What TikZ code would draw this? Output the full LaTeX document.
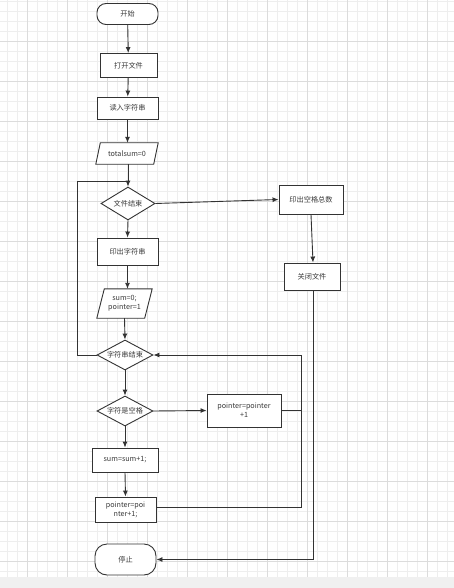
\documentclass[tikz,border=0pt]{standalone}
\usepackage{fontspec}
\setmainfont{Noto Sans CJK SC}
\usetikzlibrary{shapes.geometric,arrows.meta,calc}
\definecolor{ln}{HTML}{333333}
\definecolor{txt}{HTML}{3A3A3A}
\definecolor{gminor}{HTML}{EEEEEE}
\definecolor{gmajor}{HTML}{DCDCDC}
\definecolor{band}{HTML}{F0F0F0}
\tikzset{
  base/.style={font=\fontsize{7.2}{9}\selectfont, text=txt, inner sep=0pt, align=center},
  procbox/.style={base, draw=ln, line width=0.9pt, fill=white, rectangle},
  termbox/.style={base, draw=ln, line width=0.9pt, fill=white, rectangle},
  decbox/.style={base, draw=ln, line width=0.9pt, fill=white, diamond, inner sep=0pt},
  parabox/.style={base, rectangle},
  conn/.style={draw=ln, line width=0.9pt},
  arr/.style={conn, -{Latex[length=6pt,width=5pt]}},
}
\begin{document}
\begin{tikzpicture}[x=1pt,y=-1pt]
\useasboundingbox (0,0) rectangle (454,588);
\fill[white] (0,0) rectangle (454,577);
% grid
\foreach \x in {7,17,...,454} \draw[gminor,line width=0.5pt] (\x,0) -- (\x,577);
\foreach \y in {1,11,...,577} \draw[gminor,line width=0.5pt] (0,\y) -- (454,\y);
\foreach \x in {27,67,...,454} \draw[gmajor,line width=0.6pt] (\x,0) -- (\x,577);
\foreach \y in {41,81,...,577} \draw[gmajor,line width=0.6pt] (0,\y) -- (454,\y);
\fill[band] (0,577) rectangle (454,588);

% nodes
\node[termbox, minimum width=61pt, minimum height=21pt, rounded corners=9pt] (start) at (127.5,14) {开始};
\node[procbox, minimum width=57pt, minimum height=24pt] (open) at (128.5,65.5) {打开文件};
\node[procbox, minimum width=61pt, minimum height=22pt] (read) at (127.5,108) {读入字符串};
\node[parabox, minimum width=62pt, minimum height=21pt] (tot) at (127,153.5) {totalsum=0};
\draw[conn, fill=white] ($(tot.north west)+(4.5,0)$) -- (tot.north east) -- ($(tot.south east)-(4.5,0)$) -- (tot.south west) -- cycle;
\node[parabox, minimum width=62pt, minimum height=21pt] at (127,153.5) {totalsum=0};
\node[decbox, shape aspect=1.64, minimum width=54pt, minimum height=33pt] (eof) at (128,203.5) {文件结束};
\node[procbox, minimum width=64pt, minimum height=29pt] (pspace) at (311,199.5) {印出空格总数};
\node[procbox, minimum width=61pt, minimum height=27pt] (pstr) at (127.5,251.5) {印出字符串};
\node[procbox, minimum width=56pt, minimum height=27pt] (close) at (312,276.5) {关闭文件};
\node[parabox, minimum width=55pt, minimum height=29pt] (init) at (124.5,303.5) {sum=0;\\pointer=1};
\draw[conn, fill=white] ($(init.north west)+(7.5,0)$) -- (init.north east) -- ($(init.south east)-(7.5,0)$) -- (init.south west) -- cycle;
\node[parabox, minimum width=55pt, minimum height=29pt] at (124.5,303.5) {sum=0;\\pointer=1};
\node[decbox, shape aspect=1.87, minimum width=56pt, minimum height=30pt] (eos) at (125,355) {字符串结束};
\node[decbox, shape aspect=1.87, minimum width=56pt, minimum height=30pt] (isspace) at (125,411) {字符是空格};
\node[procbox, minimum width=74pt, minimum height=33pt, text width=72pt] (pinc1) at (244,410.5) {pointer=pointer\\+1};
\node[procbox, minimum width=66pt, minimum height=24pt] (sum) at (125,460) {sum=sum+1;};
\node[procbox, minimum width=61pt, minimum height=25pt] (pinc2) at (125.5,509.5) {pointer=poi\\nter+1;};
\node[termbox, minimum width=61pt, minimum height=31pt, rounded corners=12pt] (stop) at (125.5,559.5) {停止};

% coordinates
\coordinate (lj) at (128,181);
\coordinate (lb) at (77,355);
\coordinate (lt) at (77,181);
\coordinate (r1) at (301,410.5);
\coordinate (r2) at (301,507);
\coordinate (r3) at (301,355);
\coordinate (c1) at (313,559.5);

% connectors
\draw[arr] (start) -- (open);
\draw[arr] (open) -- (read);
\draw[arr] (read) -- (read |- tot.north);
\draw[arr] (tot.south -| eof) -- (eof.north);
\draw[arr] (eof.east) -- (pspace.west);
\draw[arr] (pspace.south) -- ($(close.north)+(1,0)$);
\draw[arr] (eof.south) -- (pstr.north);
\draw[arr] (pstr.south) -- (pstr.south |- init.north);
\draw[conn] (eos.west) -- (lb) -- (lt) -- (lj);
\draw[arr] (init.south) -- (eos.north);
\draw[arr] (eos.south) -- (isspace.north);
\draw[arr] (isspace.east) -- (pinc1.west);
\draw[arr] (isspace.south) -- (sum.north);
\draw[arr] (sum.south) -- (pinc2.north);
\draw[conn] (pinc1.east) -- (r1);
\draw[arr] (pinc2.east |- r2) -- (r2) -- (r3) -- (eos.east);
\draw[arr] (close.south -| c1) -- (c1) -- (stop.east);
\end{tikzpicture}
\end{document}
